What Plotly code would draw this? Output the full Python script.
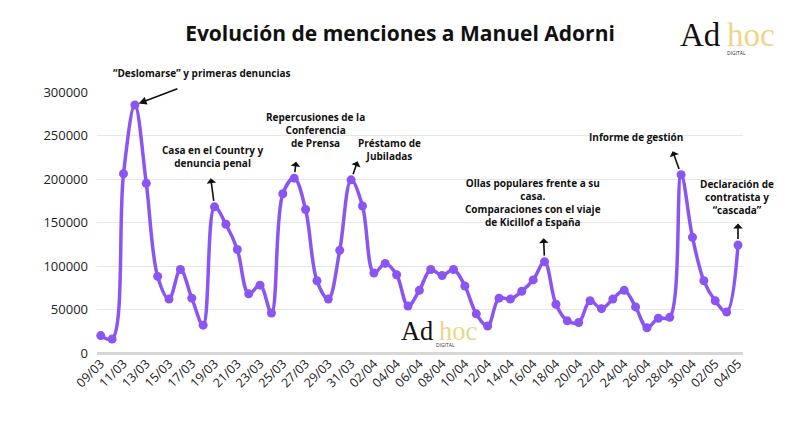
import plotly.graph_objects as go
from datetime import date, timedelta

# daily mentions, 09/03 -> 04/05
start = date(2025, 3, 9)
values = [20000, 16000, 206000, 285000, 195000, 88000, 62000, 96000, 63000, 32000,
          168000, 148000, 119000, 68000, 78000, 46000, 183000, 201000, 165000, 83000,
          62000, 118000, 199000, 169000, 92000, 103000, 90000, 54000, 72000, 96000,
          89000, 96000, 77000, 45000, 31000, 63000, 62000, 71000, 84000, 105000,
          56000, 37000, 35000, 60000, 51000, 62000, 72000, 53000, 29000, 40000,
          41000, 205000, 133000, 83000, 60000, 47000, 124000]
days = [(start + timedelta(days=i)).strftime("%d/%m") for i in range(len(values))]
tick_labels = days[::2]

# (index, text, arrow dx, arrow dy, arrow points at data)
notes = [
    (3, "“Deslomarse” y primeras denuncias", 44, -17, True),
    (10, "Casa en el Country y<br>denuncia penal", -4, -24, False),
    (17, "Repercusiones de la<br>Conferencia<br>de Prensa", 2, -12, False),
    (22, "Préstamo de<br>Jubiladas", 7, -14, False),
    (39, "Ollas populares frente a su<br>casa.<br>Comparaciones con el viaje<br>de Kicillof a España", -1, -19, False),
    (51, "Informe de gestión", -9, -19, False),
    (56, "Declaración de<br>contratista y<br>“cascada”", 0, -17, False),
]
note_text_pos = [(202, 73), (213, 156), (315, 130), (389, 149), (533, 202), (636, 137), (737, 197)]

purple = "#8a55f2"

# the page puts the figure 8px in from the top-left corner
OFF = 8
W, H = 790 - OFF, 444 - OFF
ml, mt = 97 - OFF, 92 - OFF
pw, ph = 646, 261
mr, mb = W - ml - pw, H - mt - ph


def px(x, y):
    return (x - OFF - ml) / pw, 1 - (y - OFF - mt) / ph


fig = go.Figure(go.Scatter(
    x=list(range(len(values))), y=values,
    mode="lines+markers",
    line=dict(color=purple, width=3.5, shape="spline", smoothing=1.0),
    marker=dict(color=purple, size=9),
    cliponaxis=False,
))

tx, ty = px(400, 34)
fig.update_layout(
    width=W, height=H,
    margin=dict(l=ml, r=mr, t=mt, b=mb),
    paper_bgcolor="white", plot_bgcolor="white",
    showlegend=False,
    font=dict(family="Open Sans", color="#1a1a1a"),
    title=dict(text="<b>Evolución de menciones a Manuel Adorni</b>",
               x=tx, xref="paper", xanchor="center",
               y=1 - (34 - OFF) / H, yanchor="middle",
               font=dict(size=21, color="#111111")),
)
fig.update_xaxes(
    range=[-0.33, len(values) - 0.56],
    tickvals=list(range(0, len(values), 2)), ticktext=tick_labels,
    tickangle=-45, tickfont=dict(size=12.5, color="#222222"),
    showgrid=False, zeroline=False, showline=False, ticks="",
)
fig.update_yaxes(
    range=[0, 300000], tickvals=[0, 50000, 100000, 150000, 200000, 250000, 300000],
    tickformat="d", tickfont=dict(size=13, color="#222222"),
    gridcolor="#e6e6e6", gridwidth=1, zeroline=True, zerolinecolor="#d6d6d6",
    zerolinewidth=3, showline=False, ticks="", ticklabelstandoff=8,
)

ann = []
for (i, txt, dx, dy, at_point), (nx, ny) in zip(notes, note_text_pos):
    x, y = px(nx, ny)
    ann.append(dict(x=x, y=y, xref="paper", yref="paper", text="<b>" + txt + "</b>",
                    showarrow=False, font=dict(size=10, color="#111111"),
                    align="center", xanchor="center", yanchor="middle"))
    if at_point:
        ann.append(dict(x=i, y=values[i], xref="x", yref="y", text="",
                        showarrow=True, arrowhead=2, arrowsize=1, arrowwidth=1.6,
                        arrowcolor="#111111", ax=dx, ay=dy, standoff=4))
    else:
        ann.append(dict(x=i, y=values[i], xref="x", yref="y", text="",
                        showarrow=True, arrowhead=2, arrowsize=1, arrowwidth=1.6,
                        arrowside="start", arrowcolor="#111111",
                        ax=dx, ay=dy - 6, standoff=6))

# logos: top right and watermark inside the plot
for lx, ly, s in [(700, 35, 1.0), (417, 331, 0.8)]:
    for dx, dy, txt, fam, size, col in [
        (0, 0, "Ad", "Liberation Serif", 33, "#111111"),
        (51, 0, "hoc", "Liberation Serif", 33, "#edd68a"),
        (36, 18, "DIGITAL", "Open Sans", 5, "#333333"),
    ]:
        x, y = px(lx + dx * s, ly + dy * s)
        ann.append(dict(x=x, y=y, xref="paper", yref="paper", text=txt, showarrow=False,
                        font=dict(family=fam, size=size * s if size > 5 else size, color=col),
                        xanchor="center", yanchor="middle"))

fig.update_layout(annotations=ann)
fig.write_html("out.html")
